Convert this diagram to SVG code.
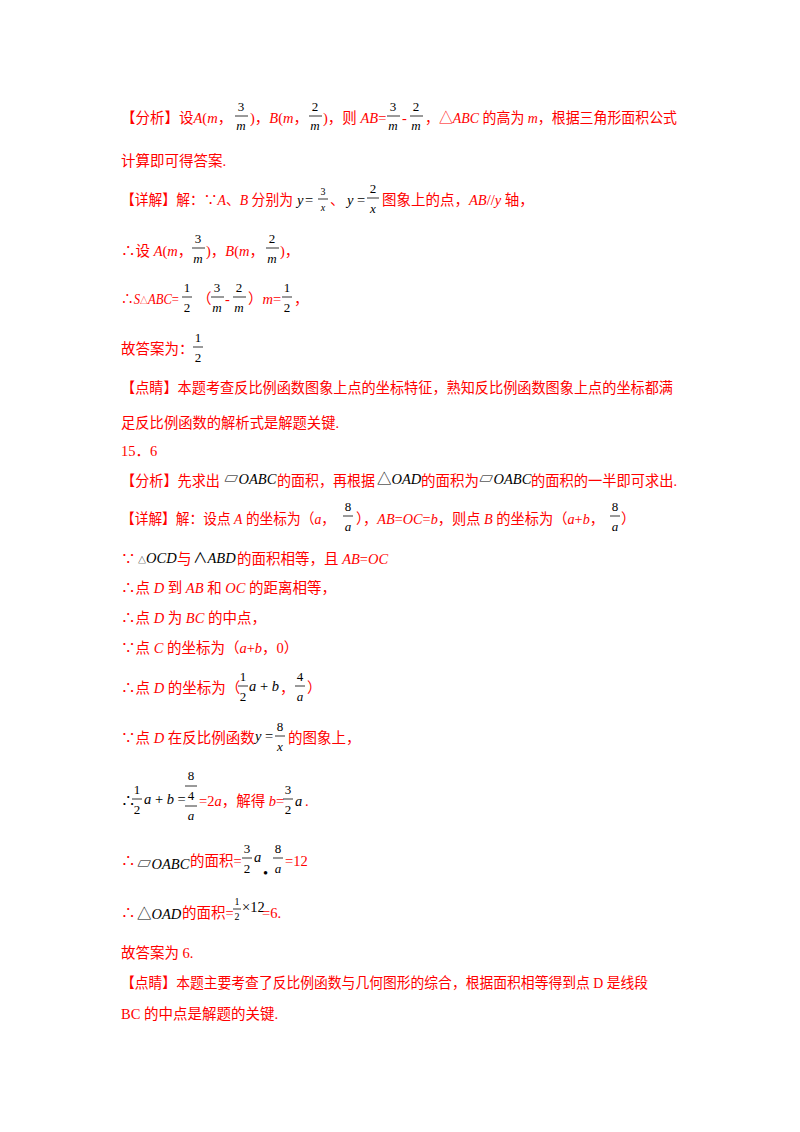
<svg xmlns="http://www.w3.org/2000/svg" width="800" height="1132" viewBox="0 0 800 1132">
<style>
text{font-family:"Liberation Serif","Noto Sans CJK SC",serif;font-size:14.5px}
.r{fill:#f00}
.k{fill:#000}
.i{font-style:italic}
.n{font-size:13px;text-anchor:middle;fill:#000}
.s{font-size:10px;text-anchor:middle;fill:#000}
line{stroke:#000;stroke-width:0.8}
</style>
<rect width="800" height="1132" fill="#fff"/>
<g id="l1">
<text class="r" x="121" y="123">【分析】设<tspan class="i">A</tspan>(<tspan class="i">m</tspan>，</text>
<text class="n" x="241" y="111">3</text><line x1="235" y1="116" x2="248" y2="116"/><text class="n i" x="241" y="130">m</text>
<text class="r" x="250" y="123">)，<tspan class="i">B</tspan>(<tspan class="i">m</tspan>，</text>
<text class="n" x="315" y="111">2</text><line x1="309" y1="116" x2="322" y2="116"/><text class="n i" x="315" y="130">m</text>
<text class="r" x="323" y="123">)，则 <tspan class="i">AB</tspan>=</text>
<text class="n" x="393" y="111">3</text><line x1="387" y1="116" x2="400" y2="116"/><text class="n i" x="393" y="130">m</text>
<text class="r" x="402" y="123">-</text>
<text class="n" x="416" y="111">2</text><line x1="410" y1="116" x2="423" y2="116"/><text class="n i" x="416" y="130">m</text>
<text class="r" x="425" y="123" textLength="252" lengthAdjust="spacingAndGlyphs">，△<tspan class="i">ABC</tspan> 的高为 <tspan class="i">m</tspan>，根据三角形面积公式</text>
<text class="r" x="121" y="166">计算即可得答案.</text>
</g>
<g id="l3">
<text class="r" x="121" y="205" textLength="172" lengthAdjust="spacingAndGlyphs">【详解】解：∵<tspan class="i">A</tspan>、<tspan class="i">B</tspan> 分别为</text>
<text class="k i" x="297" y="205" font-size="13">y</text><text class="k" x="305" y="205" font-size="13">=</text>
<text class="s" x="323" y="195">3</text><line x1="318" y1="199" x2="328" y2="199"/><text class="s i" x="323" y="211">x</text>
<text class="r" x="330" y="205">、</text>
<text class="k i" x="347" y="205" font-size="13">y</text><text class="k" x="357" y="205" font-size="13">=</text>
<text class="n" x="373" y="193">2</text><line x1="367" y1="198" x2="379" y2="198"/><text class="n i" x="373" y="213">x</text>
<text class="r" x="382" y="205">图象上的点，<tspan class="i">AB</tspan>//<tspan class="i">y</tspan> 轴，</text>
</g>
<g id="l4">
<text class="r" x="121" y="256">∴设 <tspan class="i">A</tspan>(<tspan class="i">m</tspan>，</text>
<text class="n" x="198" y="243">3</text><line x1="192" y1="248" x2="205" y2="248"/><text class="n i" x="198" y="263">m</text>
<text class="r" x="206" y="256">)，<tspan class="i">B</tspan>(<tspan class="i">m</tspan>，</text>
<text class="n" x="272" y="243">2</text><line x1="266" y1="248" x2="279" y2="248"/><text class="n i" x="272" y="263">m</text>
<text class="r" x="280" y="256">)，</text>
</g>
<g id="l5">
<text class="r" x="121" y="304" textLength="58" lengthAdjust="spacingAndGlyphs">∴<tspan class="i">S</tspan><tspan font-size="9">△</tspan><tspan class="i">ABC</tspan>=</text>
<text class="n" x="187" y="292">1</text><line x1="182" y1="297" x2="192" y2="297"/><text class="n" x="187" y="312">2</text>
<text class="r" x="197" y="304">（</text>
<text class="n" x="217" y="292">3</text><line x1="211" y1="297" x2="224" y2="297"/><text class="n i" x="217" y="312">m</text>
<text class="r" x="225" y="304">-</text>
<text class="n" x="239" y="292">2</text><line x1="233" y1="297" x2="246" y2="297"/><text class="n i" x="239" y="312">m</text>
<text class="r" x="248" y="304">）<tspan class="i">m</tspan>=</text>
<text class="n" x="287" y="292">1</text><line x1="282" y1="297" x2="292" y2="297"/><text class="n" x="287" y="312">2</text>
<text class="r" x="294" y="304">，</text>
</g>
<g id="l6">
<text class="r" x="121" y="354">故答案为：</text>
<text class="n" x="198" y="342">1</text><line x1="193" y1="347" x2="203" y2="347"/><text class="n" x="198" y="362">2</text>
</g>
<g id="l7">
<text class="r" x="121" y="393" textLength="552" lengthAdjust="spacingAndGlyphs">【点睛】本题考查反比例函数图象上点的坐标特征，熟知反比例函数图象上点的坐标都满</text>
<text class="r" x="121" y="428" textLength="218" lengthAdjust="spacingAndGlyphs">足反比例函数的解析式是解题关键.</text>
<text class="r" x="121" y="456">15．6</text>
</g>
<g id="l10">
<text class="r" x="121" y="486" textLength="99" lengthAdjust="spacingAndGlyphs">【分析】先求出</text>
<text class="k i" x="224" y="484" font-size="13"><tspan font-style="normal">▱</tspan>OABC</text>
<text class="r" x="277" y="486" textLength="98" lengthAdjust="spacingAndGlyphs">的面积，再根据</text>
<text class="k i" x="377" y="484" font-size="13"><tspan font-style="normal">△</tspan>OAD</text>
<text class="r" x="421" y="486">的面积为</text>
<text class="k i" x="479" y="484" font-size="13"><tspan font-style="normal">▱</tspan>OABC</text>
<text class="r" x="531" y="486" textLength="146" lengthAdjust="spacingAndGlyphs">的面积的一半即可求出.</text>
</g>
<g id="l11">
<text class="r" x="121" y="524" textLength="214" lengthAdjust="spacingAndGlyphs">【详解】解：设点 <tspan class="i">A</tspan> 的坐标为（<tspan class="i">a</tspan>，</text>
<text class="n" x="348" y="511">8</text><line x1="343" y1="516" x2="353" y2="516"/><text class="n i" x="348" y="531">a</text>
<text class="r" x="356" y="524" textLength="248" lengthAdjust="spacingAndGlyphs">），<tspan class="i">AB</tspan>=<tspan class="i">OC</tspan>=<tspan class="i">b</tspan>，则点 <tspan class="i">B</tspan> 的坐标为（<tspan class="i">a</tspan>+<tspan class="i">b</tspan>，</text>
<text class="n" x="615" y="511">8</text><line x1="610" y1="516" x2="620" y2="516"/><text class="n i" x="615" y="531">a</text>
<text class="r" x="621" y="524">）</text>
</g>
<g id="l12">
<text class="r" x="121" y="564">∵</text>
<text class="k i" x="138" y="563" font-size="13"><tspan font-style="normal" font-size="8">△</tspan>OCD</text>
<text class="r" x="177" y="564">与</text>
<text class="k i" x="193" y="563" font-size="14"><tspan font-style="normal">∧</tspan>ABD</text>
<text class="r" x="237" y="564">的面积相等，且 <tspan class="i">AB</tspan>=<tspan class="i">OC</tspan></text>
</g>
<text class="r" x="121" y="593">∴点 <tspan class="i">D</tspan> 到 <tspan class="i">AB</tspan> 和 <tspan class="i">OC</tspan> 的距离相等，</text>
<text class="r" x="121" y="623">∴点 <tspan class="i">D</tspan> 为 <tspan class="i">BC</tspan> 的中点，</text>
<text class="r" x="121" y="653">∵点 <tspan class="i">C</tspan> 的坐标为（<tspan class="i">a</tspan>+<tspan class="i">b</tspan>，0）</text>
<g id="l16">
<text class="r" x="121" y="693">∴点 <tspan class="i">D</tspan> 的坐标为（</text>
<text class="n" x="243" y="681">1</text><line x1="238" y1="686" x2="248" y2="686"/><text class="n" x="243" y="701">2</text>
<text class="k i" x="249" y="691" font-size="13">a<tspan font-style="normal"> + </tspan>b</text>
<text class="r" x="280" y="693">，</text>
<text class="n" x="300" y="681">4</text><line x1="295" y1="686" x2="305" y2="686"/><text class="n i" x="300" y="701">a</text>
<text class="r" x="307" y="693">）</text>
</g>
<g id="l17">
<text class="r" x="121" y="743">∵点 <tspan class="i">D</tspan> 在反比例函数</text>
<text class="k i" x="255" y="741" font-size="13">y<tspan font-style="normal"> =</tspan></text>
<text class="n" x="280" y="731">8</text><line x1="275" y1="736" x2="285" y2="736"/><text class="n i" x="280" y="751">x</text>
<text class="r" x="288" y="743">的图象上，</text>
</g>
<g id="l18">
<text class="k" x="121" y="806">∴</text>
<text class="n" x="137" y="794">1</text><line x1="132" y1="799" x2="142" y2="799"/><text class="n" x="137" y="814">2</text>
<text class="k i" x="144" y="804" font-size="13">a<tspan font-style="normal"> + </tspan>b<tspan font-style="normal"> =</tspan></text>
<text class="n" x="191" y="780">8</text><line x1="185" y1="786" x2="197" y2="786"/><text class="n" x="191" y="800">4</text><line x1="185" y1="806" x2="197" y2="806" stroke="#999"/><text class="n i" x="191" y="820">a</text>
<text class="r" x="199" y="806">=2<tspan class="i">a</tspan>，解得 <tspan class="i">b</tspan>=</text>
<text class="n" x="288" y="794">3</text><line x1="283" y1="799" x2="293" y2="799"/><text class="n" x="288" y="814">2</text>
<text class="k i" x="295" y="806" font-size="13">a</text><text class="r" x="305" y="806">.</text>
</g>
<g id="l19">
<text class="r" x="121" y="866">∴</text>
<text class="k i" x="137" y="869" font-size="13"><tspan font-style="normal">▱</tspan>OABC</text>
<text class="r" x="190" y="866">的面积=</text>
<text class="n" x="247" y="853">3</text><line x1="242" y1="858" x2="252" y2="858"/><text class="n" x="247" y="873">2</text>
<text class="k i" x="254" y="862" font-size="13">a</text>
<text class="k" x="263" y="878" font-size="14">•</text>
<text class="n" x="278" y="853">8</text><line x1="273" y1="858" x2="283" y2="858"/><text class="n i" x="278" y="873">a</text>
<text class="r" x="285" y="866">=12</text>
</g>
<g id="l20">
<text class="r" x="121" y="918">∴</text>
<text class="k i" x="137" y="919" font-size="13"><tspan font-style="normal">△</tspan>OAD</text>
<text class="r" x="182" y="918">的面积=</text>
<text class="s" x="237" y="905">1</text><line x1="233" y1="909" x2="241" y2="909"/><text class="s" x="237" y="920">2</text>
<text class="k" x="242" y="912" font-size="10">×12</text>
<text class="r" x="262" y="918">=6.</text>
</g>
<text class="r" x="121" y="958">故答案为 6.</text>
<text class="r" x="121" y="988" textLength="527" lengthAdjust="spacingAndGlyphs">【点睛】本题主要考查了反比例函数与几何图形的综合，根据面积相等得到点 D 是线段</text>
<text class="r" x="121" y="1019">BC 的中点是解题的关键.</text>
</svg>
